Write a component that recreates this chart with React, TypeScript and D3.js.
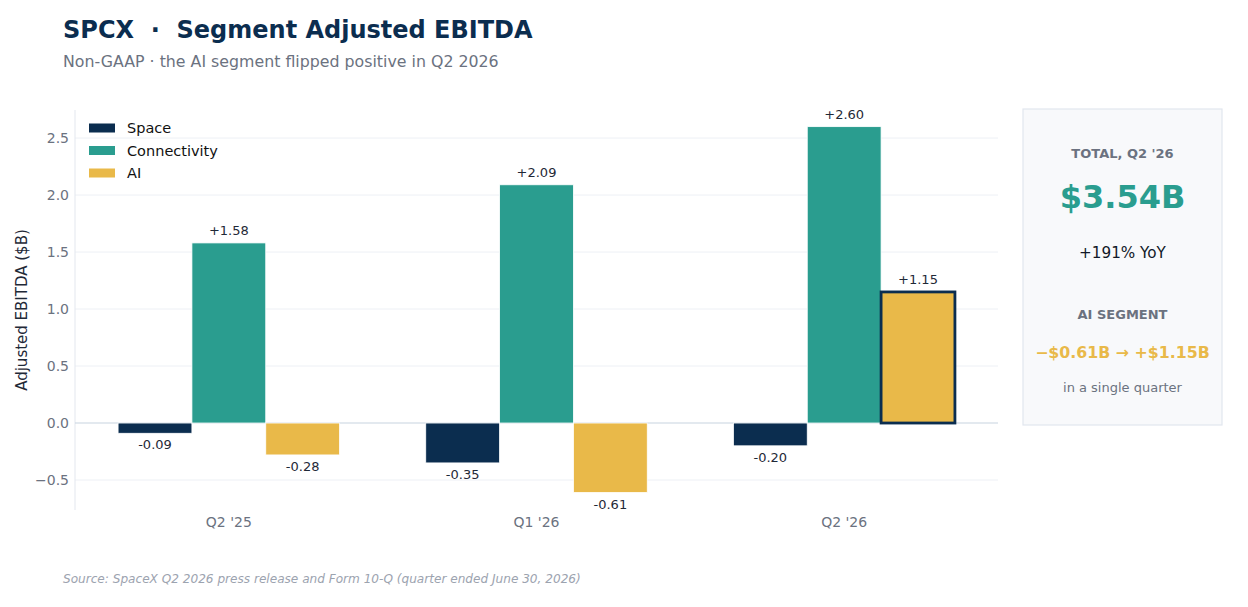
import { useEffect, useRef } from 'react';
import * as d3 from 'd3';

const QUARTERS = ["Q2 '25", "Q1 '26", "Q2 '26"];
const SEGMENTS = ['Space', 'Connectivity', 'AI'];
const SPACE = [-0.09, -0.35, -0.2];
const CONNECTIVITY = [1.58, 2.09, 2.6];
const AI = [-0.28, -0.61, 1.15];
const Y_TICKS = [-0.5, 0, 0.5, 1, 1.5, 2, 2.5];

const COLORS: Record<string, string> = {
  Space: '#0b2d4f',
  Connectivity: '#2a9d8f',
  AI: '#e9b949',
};

const NAVY = '#0b2d4f';
const GRAY = '#6b7280';
const FONT = '"DejaVu Sans", sans-serif';

export default function App() {
  const svgRef = useRef<SVGSVGElement>(null);

  useEffect(() => {
    document.body.style.margin = '0';
    if (!svgRef.current) return;
    const svg = d3.select(svgRef.current);
    svg.selectAll('*').remove();
    svg.attr('font-family', FONT);

    const margin = { left: 75, right: 998, top: 110, bottom: 510 };

    const x = d3.scaleLinear().domain([-0.5, 2.5]).range([margin.left, margin.right]);
    const y = d3.scaleLinear().domain([-0.763, 2.746]).range([margin.bottom, margin.top]);
    const barW = x(0.24) - x(0);
    const offsets = [-0.24, 0, 0.24];
    const valuesBySeg: Record<string, number[]> = {
      Space: SPACE,
      Connectivity: CONNECTIVITY,
      AI: AI,
    };

    // Title block
    svg.append('text')
      .attr('x', 63).attr('y', 38)
      .attr('font-size', 24).attr('font-weight', 'bold')
      .attr('fill', NAVY)
      .style('white-space', 'pre')
      .text('SPCX  ·  Segment Adjusted EBITDA');

    svg.append('text')
      .attr('x', 63).attr('y', 67)
      .attr('font-size', 15.8)
      .attr('fill', GRAY)
      .text('Non-GAAP · the AI segment flipped positive in Q2 2026');

    // Gridlines
    const g = svg.append('g');
    g.selectAll('line.grid')
      .data(Y_TICKS.filter((t) => t !== 0))
      .join('line')
      .attr('x1', margin.left).attr('x2', margin.right)
      .attr('y1', (d) => y(d)).attr('y2', (d) => y(d))
      .attr('stroke', '#edf0f5').attr('stroke-width', 1);

    // Left spine
    g.append('line')
      .attr('x1', margin.left).attr('x2', margin.left)
      .attr('y1', margin.top).attr('y2', margin.bottom)
      .attr('stroke', '#e3e7ee').attr('stroke-width', 1);

    // Zero line
    g.append('line')
      .attr('x1', margin.left).attr('x2', margin.right)
      .attr('y1', y(0)).attr('y2', y(0))
      .attr('stroke', '#c8d3e0').attr('stroke-width', 1.2);

    // Y tick labels
    g.selectAll('text.ytick')
      .data(Y_TICKS)
      .join('text')
      .attr('x', 69)
      .attr('y', (d) => y(d) + 5)
      .attr('text-anchor', 'end')
      .attr('font-size', 14)
      .attr('fill', GRAY)
      .text((d) => (d < 0 ? '\u2212' : '') + Math.abs(d).toFixed(1));

    // X tick labels
    g.selectAll('text.xtick')
      .data(QUARTERS)
      .join('text')
      .attr('x', (_d, i) => x(i))
      .attr('y', 527)
      .attr('text-anchor', 'middle')
      .attr('font-size', 14)
      .attr('fill', GRAY)
      .text((d) => d);

    // Y label
    svg.append('text')
      .attr('transform', `translate(27,${(margin.top + margin.bottom) / 2}) rotate(-90)`)
      .attr('text-anchor', 'middle')
      .attr('font-size', 15)
      .attr('fill', '#1f2937')
      .text('Adjusted EBITDA ($B)');

    // Bars
    SEGMENTS.forEach((seg, si) => {
      const vals = valuesBySeg[seg];
      vals.forEach((v, qi) => {
        const cx = x(qi + offsets[si]);
        const highlight = seg === 'AI' && qi === 2;
        g.append('rect')
          .attr('x', cx - barW / 2)
          .attr('width', barW)
          .attr('y', y(Math.max(0, v)))
          .attr('height', Math.abs(y(v) - y(0)))
          .attr('fill', COLORS[seg])
          .attr('stroke', highlight ? NAVY : '#ffffff')
          .attr('stroke-width', highlight ? 2.8 : 0.8);

        g.append('text')
          .attr('x', cx)
          .attr('y', v >= 0 ? y(v) - 8 : y(v) + 16)
          .attr('text-anchor', 'middle')
          .attr('font-size', 13)
          .attr('fill', '#1f2937')
          .text((v >= 0 ? '+' : '-') + Math.abs(v).toFixed(2));
      });
    });

    // Legend
    const legend = svg.append('g').attr('transform', 'translate(89,128)');
    SEGMENTS.forEach((seg, i) => {
      const row = legend.append('g').attr('transform', `translate(0,${i * 22.5})`);
      row.append('rect')
        .attr('x', 0).attr('y', -4.5)
        .attr('width', 26).attr('height', 9)
        .attr('fill', COLORS[seg]);
      row.append('text')
        .attr('x', 38).attr('y', 5.2)
        .attr('font-size', 14.5)
        .attr('fill', '#111')
        .text(seg);
    });

    // Side panel
    const px = 1023, py = 109, pw = 199, ph = 316;
    const cxp = px + pw / 2;
    const panel = svg.append('g');
    panel.append('rect')
      .attr('x', px).attr('y', py)
      .attr('width', pw).attr('height', ph)
      .attr('fill', '#f8f9fb')
      .attr('stroke', '#e2e6ee').attr('stroke-width', 1.2);

    const panelText = (
      t: string, yy: number, size: number, fill: string, bold: boolean,
    ) => {
      panel.append('text')
        .attr('x', cxp).attr('y', yy)
        .attr('text-anchor', 'middle')
        .attr('font-size', size)
        .attr('font-weight', bold ? 'bold' : 'normal')
        .attr('fill', fill)
        .text(t);
    };
    panelText("TOTAL, Q2 '26", 158, 13, GRAY, true);
    panelText('$3.54B', 208, 32, '#2a9d8f', true);
    panelText('+191% YoY', 258, 15.2, '#111827', false);
    panelText('AI SEGMENT', 319, 13, GRAY, true);
    panelText('\u2212$0.61B \u2192 +$1.15B', 358, 15.8, '#e9b949', true);
    panelText('in a single quarter', 392, 13, GRAY, false);

    // Source
    svg.append('text')
      .attr('x', 63).attr('y', 583)
      .attr('font-size', 12.1)
      .attr('font-style', 'italic')
      .attr('fill', '#9ca3af')
      .text('Source: SpaceX Q2 2026 press release and Form 10-Q (quarter ended June 30, 2026)');
  }, []);

  return <svg ref={svgRef} width={1248} height={607} style={{ display: 'block', background: '#fff' }} />;
}
